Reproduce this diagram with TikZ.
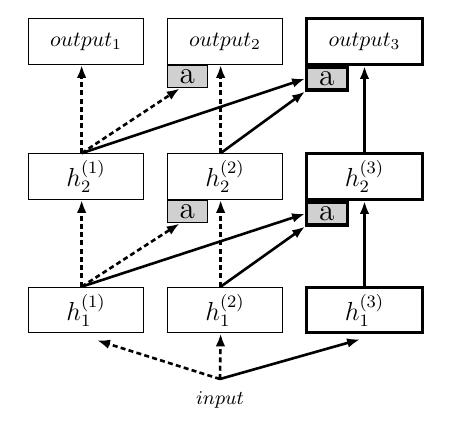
\documentclass[tikz,border=0pt]{standalone}
\usetikzlibrary{arrows.meta}

\definecolor{adaptgray}{RGB}{208,208,208}

\tikzset{
  layer/.style={draw, line width=0.45pt, minimum width=53.2pt, minimum height=21pt, inner sep=0pt},
  newlayer/.style={layer, line width=1.4pt},
  adapter/.style={draw, fill=adaptgray, line width=0.45pt, minimum width=18.6pt, minimum height=10.4pt,
    inner sep=0pt, anchor=north west, font=\Large},
  newadapter/.style={adapter, line width=1.4pt},
  lateral/.style={line width=1.2pt, -{Latex[length=6pt,width=4.4pt]}},
  frozen/.style={lateral, dash pattern=on 2.3pt off 1.5pt},
}

\begin{document}
\begin{tikzpicture}[x=0.46pt, y=-0.46pt]
        \useasboundingbox (0,0) rectangle (452,422);

        % Ausgaben
        \node[layer] (out1) at (86,41.5) {$output_1$};
        \node[layer] (out2) at (225,41.5) {$output_2$};
        \node[newlayer] (out3) at (364.5,41.5) {$output_3$};

        % Schicht 2
        \node[layer, font=\large] (h21) at (86,176.5) {$h_2^{(1)}$};
        \node[layer, font=\large] (h22) at (225,176.5) {$h_2^{(2)}$};
        \node[newlayer, font=\large] (h23) at (364.5,176.5) {$h_2^{(3)}$};

        % Schicht 1
        \node[layer, font=\large] (h11) at (86,310) {$h_1^{(1)}$};
        \node[layer, font=\large] (h12) at (225,310) {$h_1^{(2)}$};
        \node[newlayer, font=\large] (h13) at (364.5,310) {$h_1^{(3)}$};

        % Adapter
        \node[adapter] (aout2) at (out2.south west) {a};
        \node[newadapter] (aout3) at (out3.south west) {a};
        \node[adapter] (a22) at (h22.south west) {a};
        \node[newadapter] (a23) at (h23.south west) {a};

        % Eingabe
        \node[font=\small, inner ysep=5.5pt, anchor=north] (input) at (220,379) {$input$};

        % Eingabe -> Schicht 1
        \draw[frozen] (input.north) -- ([xshift=5pt,yshift=-3.2pt]h11.south);
        \draw[frozen] (input.north) -- ([xshift=-2pt]h12.south);
        \draw[lateral] (input.north) -- ([xshift=-2pt,yshift=-2.3pt]h13.south);

        % Schicht 1 -> Schicht 2
        \draw[frozen] ([xshift=-2pt]h11.north) -- ([xshift=-2pt]h21.south);
        \draw[frozen] ([xshift=-2pt]h11.north) -- ([xshift=-3.5pt]a22.south);
        \draw[lateral] ([xshift=-2pt]h11.north) -- (a23.west);
        \draw[frozen] ([xshift=-2pt]h12.north) -- ([xshift=-2pt]h22.south);
        \draw[lateral] ([xshift=-2pt]h12.north) -- (a23.south west);
        \draw[lateral] (h13.north) -- (h23.south);

        % Schicht 2 -> Ausgaben
        \draw[frozen] ([xshift=-2pt]h21.north) -- ([xshift=-2pt]out1.south);
        \draw[frozen] ([xshift=-2pt]h21.north) -- ([xshift=-3.5pt]aout2.south);
        \draw[lateral] ([xshift=-2pt]h21.north) -- (aout3.west);
        \draw[frozen] ([xshift=-2pt]h22.north) -- ([xshift=-2pt]out2.south);
        \draw[lateral] ([xshift=-2pt]h22.north) -- (aout3.south west);
        \draw[lateral] (h23.north) -- (out3.south);
\end{tikzpicture}
\end{document}
